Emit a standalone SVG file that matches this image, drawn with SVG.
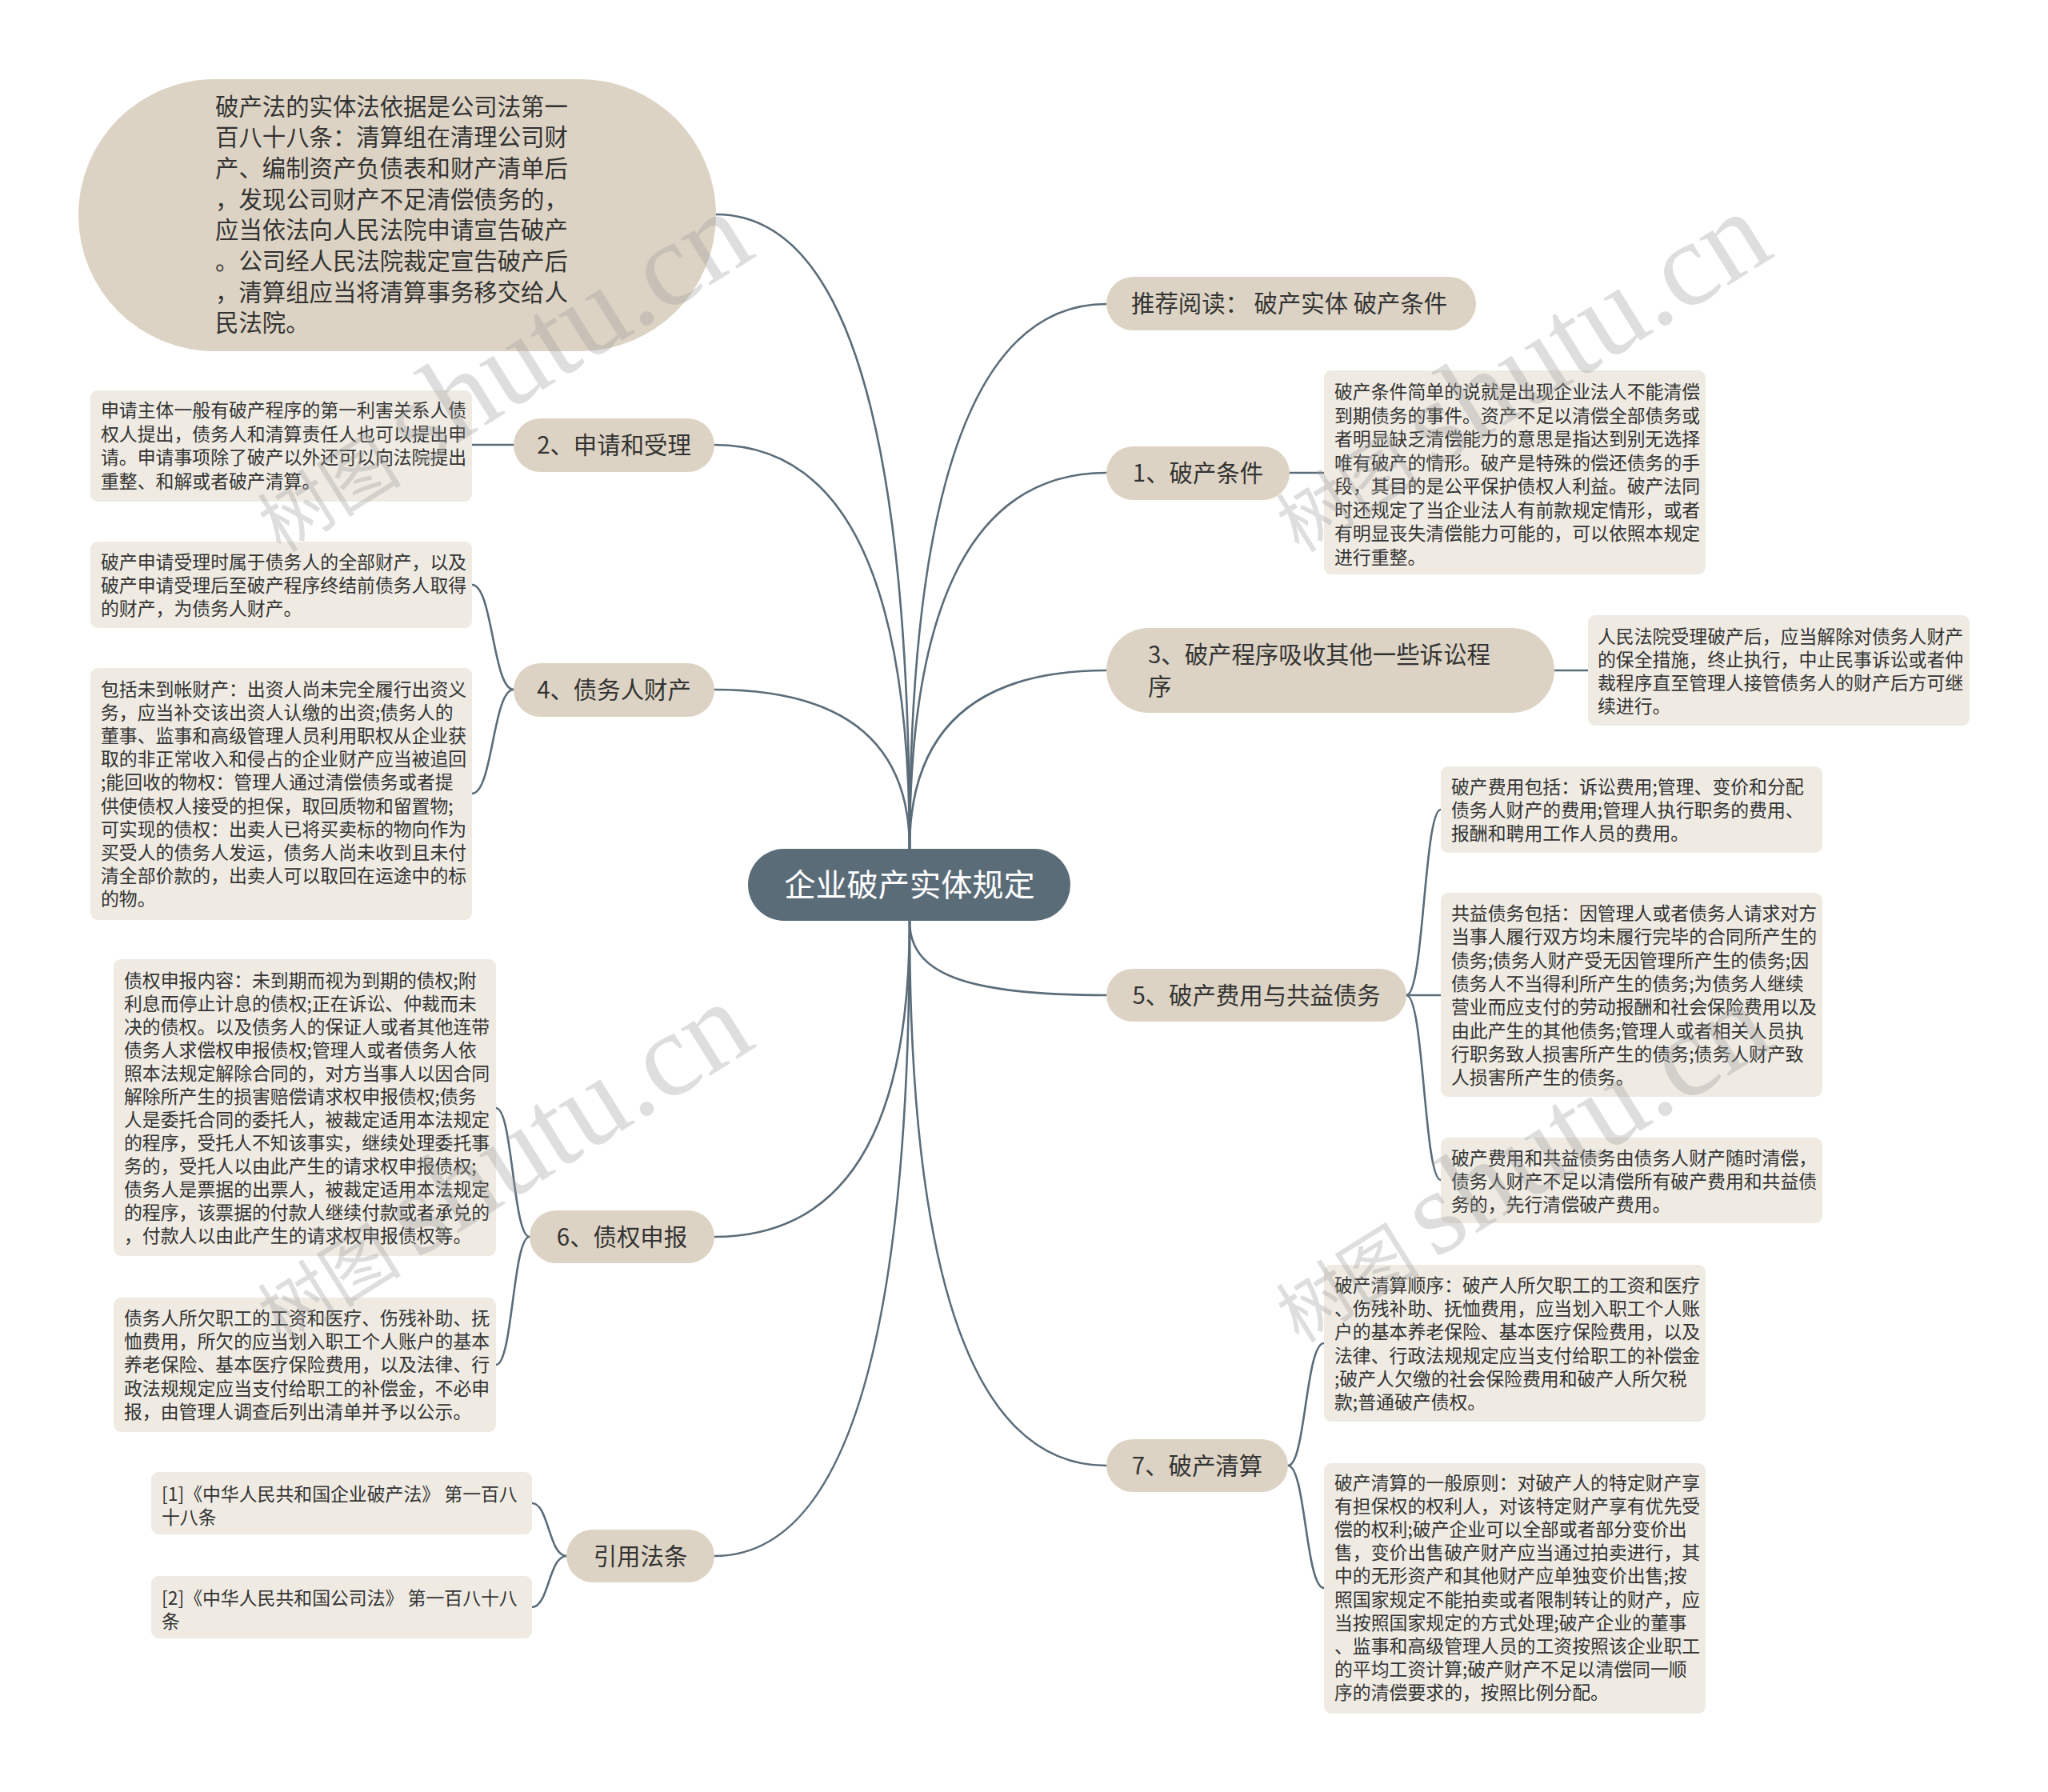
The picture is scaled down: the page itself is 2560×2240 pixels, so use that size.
<svg xmlns="http://www.w3.org/2000/svg" width="2560" height="2240" viewBox="0 0 2560 2240">
<style>
.bg{fill:#ffffff}
.ctr{fill:#5b6c79}
.pill{fill:#ddd3c4}
.box{fill:#efebe3}
.ln{fill:none;stroke:#5b6c79;stroke-width:2.6;stroke-linecap:round}
.t1{font-family:"Noto Sans CJK SC","Noto Sans",sans-serif;font-size:29.4px;fill:#333333}
.t2{font-family:"Noto Sans CJK SC","Noto Sans",sans-serif;font-size:22.86px;fill:#333333}
.tc{font-family:"Noto Sans CJK SC","Noto Sans",sans-serif;font-size:39.2px;fill:#ffffff}
.mid{text-anchor:middle}
.wm{fill:#9a9a9a;fill-opacity:0.33}
.wmc{font-family:"Noto Sans CJK SC",sans-serif;font-size:90px}
.wml{font-family:"Liberation Serif",serif;font-size:150px}
</style>
<rect class="bg" x="0" y="0" width="2560" height="2240"/>

<g id="connectors">
<path class="ln" d="M1137 1061 Q1137 268 895 268"/>
<path class="ln" d="M1137 1061 Q1137 556 893 556"/>
<path class="ln" d="M1137 1061 Q1137 862 893 862"/>
<path class="ln" d="M1137 1061 Q1137 380 1383 380"/>
<path class="ln" d="M1137 1061 Q1137 591 1383 591"/>
<path class="ln" d="M1137 1061 Q1137 838 1383 838"/>
<path class="ln" d="M1137 1151 C1137 1215 1200 1244 1383 1244"/>
<path class="ln" d="M1137 1151 Q1137 1832 1383 1832"/>
<path class="ln" d="M1137 1151 Q1137 1546 893 1546"/>
<path class="ln" d="M1137 1151 Q1137 1945 893 1945"/>
<path class="ln" d="M642 556 L590 556"/>
<path class="ln" d="M1612 591 L1655 591"/>
<path class="ln" d="M1943 838 L1985 838"/>
<path class="ln" d="M642 862 C616 862 616 731 590 731"/>
<path class="ln" d="M642 862 C616 862 616 992 590 992"/>
<path class="ln" d="M662 1546 C641 1546 641 1385 620 1385"/>
<path class="ln" d="M662 1546 C641 1546 641 1706 620 1706"/>
<path class="ln" d="M708 1945 C686 1945 686 1879 665 1879"/>
<path class="ln" d="M708 1945 C686 1945 686 2009 665 2009"/>
<path class="ln" d="M1758 1244 C1780 1244 1780 1012 1801 1012"/>
<path class="ln" d="M1758 1244 L1801 1244"/>
<path class="ln" d="M1758 1244 C1780 1244 1780 1475 1801 1475"/>
<path class="ln" d="M1610 1832 C1632 1832 1632 1679 1655 1679"/>
<path class="ln" d="M1610 1832 C1632 1832 1632 1985 1655 1985"/>
</g>

<g id="center">
<rect class="ctr" x="935" y="1061" width="403" height="90" rx="45"/>
<text class="tc mid" x="1137" y="1120">企业破产实体规定</text>
</g>

<g id="n-basis">
<rect class="pill" x="98" y="99" width="797" height="340" rx="170"/>
<text class="t1">
<tspan x="269" y="143.5">破产法的实体法依据是公司法第一</tspan>
<tspan x="269" y="182.2">百八十八条：清算组在清理公司财</tspan>
<tspan x="269" y="220.9">产、编制资产负债表和财产清单后</tspan>
<tspan x="269" y="259.6">，发现公司财产不足清偿债务的，</tspan>
<tspan x="269" y="298.3">应当依法向人民法院申请宣告破产</tspan>
<tspan x="269" y="337">。公司经人民法院裁定宣告破产后</tspan>
<tspan x="269" y="375.7">，清算组应当将清算事务移交给人</tspan>
<tspan x="269" y="414.4">民法院。</tspan>
</text>
</g>

<g id="n2">
<rect class="pill" x="642" y="523" width="251" height="67" rx="33.5"/>
<text class="t1 mid" x="767.5" y="567">2、申请和受理</text>
</g>
<g id="n2-d">
<rect class="box" x="113" y="488" width="477" height="139" rx="9"/>
<text class="t2">
<tspan x="126" y="521">申请主体一般有破产程序的第一利害关系人债</tspan>
<tspan x="126" y="550.5">权人提出，债务人和清算责任人也可以提出申</tspan>
<tspan x="126" y="580">请。申请事项除了破产以外还可以向法院提出</tspan>
<tspan x="126" y="609.5">重整、和解或者破产清算。</tspan>
</text>
</g>

<g id="n4">
<rect class="pill" x="642" y="829" width="251" height="67" rx="33.5"/>
<text class="t1 mid" x="767.5" y="873">4、债务人财产</text>
</g>
<g id="n4-a">
<rect class="box" x="113" y="677" width="477" height="108" rx="9"/>
<text class="t2">
<tspan x="126" y="711">破产申请受理时属于债务人的全部财产，以及</tspan>
<tspan x="126" y="740">破产申请受理后至破产程序终结前债务人取得</tspan>
<tspan x="126" y="769">的财产，为债务人财产。</tspan>
</text>
</g>
<g id="n4-b">
<rect class="box" x="113" y="835" width="477" height="315" rx="9"/>
<text class="t2">
<tspan x="126" y="870">包括未到帐财产：出资人尚未完全履行出资义</tspan>
<tspan x="126" y="899.1">务，应当补交该出资人认缴的出资;债务人的</tspan>
<tspan x="126" y="928.2">董事、监事和高级管理人员利用职权从企业获</tspan>
<tspan x="126" y="957.3">取的非正常收入和侵占的企业财产应当被追回</tspan>
<tspan x="126" y="986.4">;能回收的物权：管理人通过清偿债务或者提</tspan>
<tspan x="126" y="1015.5">供使债权人接受的担保，取回质物和留置物;</tspan>
<tspan x="126" y="1044.6">可实现的债权：出卖人已将买卖标的物向作为</tspan>
<tspan x="126" y="1073.7">买受人的债务人发运，债务人尚未收到且未付</tspan>
<tspan x="126" y="1102.8">清全部价款的，出卖人可以取回在运途中的标</tspan>
<tspan x="126" y="1131.9">的物。</tspan>
</text>
</g>

<g id="n6">
<rect class="pill" x="662" y="1513" width="231" height="66" rx="33"/>
<text class="t1 mid" x="777.5" y="1556.5">6、债权申报</text>
</g>
<g id="n6-a">
<rect class="box" x="142" y="1199" width="478" height="371" rx="9"/>
<text class="t2">
<tspan x="155" y="1234">债权申报内容：未到期而视为到期的债权;附</tspan>
<tspan x="155" y="1263">利息而停止计息的债权;正在诉讼、仲裁而未</tspan>
<tspan x="155" y="1292">决的债权。以及债务人的保证人或者其他连带</tspan>
<tspan x="155" y="1321">债务人求偿权申报债权;管理人或者债务人依</tspan>
<tspan x="155" y="1350">照本法规定解除合同的，对方当事人以因合同</tspan>
<tspan x="155" y="1379">解除所产生的损害赔偿请求权申报债权;债务</tspan>
<tspan x="155" y="1408">人是委托合同的委托人，被裁定适用本法规定</tspan>
<tspan x="155" y="1437">的程序，受托人不知该事实，继续处理委托事</tspan>
<tspan x="155" y="1466">务的，受托人以由此产生的请求权申报债权;</tspan>
<tspan x="155" y="1495">债务人是票据的出票人，被裁定适用本法规定</tspan>
<tspan x="155" y="1524">的程序，该票据的付款人继续付款或者承兑的</tspan>
<tspan x="155" y="1553">，付款人以由此产生的请求权申报债权等。</tspan>
</text>
</g>
<g id="n6-b">
<rect class="box" x="142" y="1622" width="478" height="168" rx="9"/>
<text class="t2">
<tspan x="155" y="1656">债务人所欠职工的工资和医疗、伤残补助、抚</tspan>
<tspan x="155" y="1685.2">恤费用，所欠的应当划入职工个人账户的基本</tspan>
<tspan x="155" y="1714.4">养老保险、基本医疗保险费用，以及法律、行</tspan>
<tspan x="155" y="1743.6">政法规规定应当支付给职工的补偿金，不必申</tspan>
<tspan x="155" y="1772.8">报，由管理人调查后列出清单并予以公示。</tspan>
</text>
</g>

<g id="n-ref">
<rect class="pill" x="708" y="1912" width="185" height="66" rx="33"/>
<text class="t1 mid" x="800.5" y="1955.5">引用法条</text>
</g>
<g id="n-ref-1">
<rect class="box" x="189" y="1840" width="476" height="78" rx="9"/>
<text class="t2">
<tspan x="202" y="1876">[1]《中华人民共和国企业破产法》 第一百八</tspan>
<tspan x="202" y="1905">十八条</tspan>
</text>
</g>
<g id="n-ref-2">
<rect class="box" x="189" y="1970" width="476" height="78" rx="9"/>
<text class="t2">
<tspan x="202" y="2006">[2]《中华人民共和国公司法》 第一百八十八</tspan>
<tspan x="202" y="2035">条</tspan>
</text>
</g>

<g id="n-rec">
<rect class="pill" x="1383" y="346" width="462" height="67" rx="33.5"/>
<text class="t1" x="1414" y="390">推荐阅读： 破产实体 破产条件</text>
</g>

<g id="n1">
<rect class="pill" x="1383" y="558" width="229" height="67" rx="33.5"/>
<text class="t1 mid" x="1497.5" y="601.5">1、破产条件</text>
</g>
<g id="n1-d">
<rect class="box" x="1655" y="463" width="477" height="255" rx="9"/>
<text class="t2">
<tspan x="1668" y="498">破产条件简单的说就是出现企业法人不能清偿</tspan>
<tspan x="1668" y="527.5">到期债务的事件。资产不足以清偿全部债务或</tspan>
<tspan x="1668" y="557">者明显缺乏清偿能力的意思是指达到别无选择</tspan>
<tspan x="1668" y="586.5">唯有破产的情形。破产是特殊的偿还债务的手</tspan>
<tspan x="1668" y="616">段，其目的是公平保护债权人利益。破产法同</tspan>
<tspan x="1668" y="645.5">时还规定了当企业法人有前款规定情形，或者</tspan>
<tspan x="1668" y="675">有明显丧失清偿能力可能的，可以依照本规定</tspan>
<tspan x="1668" y="704.5">进行重整。</tspan>
</text>
</g>

<g id="n3">
<rect class="pill" x="1383" y="785" width="560" height="106" rx="53"/>
<text class="t1">
<tspan x="1435" y="828.5">3、破产程序吸收其他一些诉讼程</tspan>
<tspan x="1435" y="868.5">序</tspan>
</text>
</g>
<g id="n3-d">
<rect class="box" x="1985" y="769" width="477" height="138" rx="9"/>
<text class="t2">
<tspan x="1997" y="804">人民法院受理破产后，应当解除对债务人财产</tspan>
<tspan x="1997" y="833">的保全措施，终止执行，中止民事诉讼或者仲</tspan>
<tspan x="1997" y="862">裁程序直至管理人接管债务人的财产后方可继</tspan>
<tspan x="1997" y="891">续进行。</tspan>
</text>
</g>

<g id="n5">
<rect class="pill" x="1383" y="1211" width="375" height="66" rx="33"/>
<text class="t1 mid" x="1570.5" y="1254.5">5、破产费用与共益债务</text>
</g>
<g id="n5-a">
<rect class="box" x="1801" y="958" width="477" height="108" rx="9"/>
<text class="t2">
<tspan x="1814" y="992">破产费用包括：诉讼费用;管理、变价和分配</tspan>
<tspan x="1814" y="1021">债务人财产的费用;管理人执行职务的费用、</tspan>
<tspan x="1814" y="1050">报酬和聘用工作人员的费用。</tspan>
</text>
</g>
<g id="n5-b">
<rect class="box" x="1801" y="1116" width="477" height="255" rx="9"/>
<text class="t2">
<tspan x="1814" y="1150">共益债务包括：因管理人或者债务人请求对方</tspan>
<tspan x="1814" y="1179.3">当事人履行双方均未履行完毕的合同所产生的</tspan>
<tspan x="1814" y="1208.6">债务;债务人财产受无因管理所产生的债务;因</tspan>
<tspan x="1814" y="1237.9">债务人不当得利所产生的债务;为债务人继续</tspan>
<tspan x="1814" y="1267.2">营业而应支付的劳动报酬和社会保险费用以及</tspan>
<tspan x="1814" y="1296.5">由此产生的其他债务;管理人或者相关人员执</tspan>
<tspan x="1814" y="1325.8">行职务致人损害所产生的债务;债务人财产致</tspan>
<tspan x="1814" y="1355.1">人损害所产生的债务。</tspan>
</text>
</g>
<g id="n5-c">
<rect class="box" x="1801" y="1422" width="477" height="107" rx="9"/>
<text class="t2">
<tspan x="1814" y="1456">破产费用和共益债务由债务人财产随时清偿，</tspan>
<tspan x="1814" y="1485">债务人财产不足以清偿所有破产费用和共益债</tspan>
<tspan x="1814" y="1514">务的，先行清偿破产费用。</tspan>
</text>
</g>

<g id="n7">
<rect class="pill" x="1383" y="1799" width="227" height="66" rx="33"/>
<text class="t1 mid" x="1496.5" y="1842.5">7、破产清算</text>
</g>
<g id="n7-a">
<rect class="box" x="1655" y="1581" width="477" height="196" rx="9"/>
<text class="t2">
<tspan x="1668" y="1615">破产清算顺序：破产人所欠职工的工资和医疗</tspan>
<tspan x="1668" y="1644.2">、伤残补助、抚恤费用，应当划入职工个人账</tspan>
<tspan x="1668" y="1673.4">户的基本养老保险、基本医疗保险费用，以及</tspan>
<tspan x="1668" y="1702.6">法律、行政法规规定应当支付给职工的补偿金</tspan>
<tspan x="1668" y="1731.8">;破产人欠缴的社会保险费用和破产人所欠税</tspan>
<tspan x="1668" y="1761">款;普通破产债权。</tspan>
</text>
</g>
<g id="n7-b">
<rect class="box" x="1655" y="1829" width="477" height="313" rx="9"/>
<text class="t2">
<tspan x="1668" y="1862">破产清算的一般原则：对破产人的特定财产享</tspan>
<tspan x="1668" y="1891.1">有担保权的权利人，对该特定财产享有优先受</tspan>
<tspan x="1668" y="1920.2">偿的权利;破产企业可以全部或者部分变价出</tspan>
<tspan x="1668" y="1949.3">售，变价出售破产财产应当通过拍卖进行，其</tspan>
<tspan x="1668" y="1978.4">中的无形资产和其他财产应单独变价出售;按</tspan>
<tspan x="1668" y="2007.5">照国家规定不能拍卖或者限制转让的财产，应</tspan>
<tspan x="1668" y="2036.6">当按照国家规定的方式处理;破产企业的董事</tspan>
<tspan x="1668" y="2065.7">、监事和高级管理人员的工资按照该企业职工</tspan>
<tspan x="1668" y="2094.8">的平均工资计算;破产财产不足以清偿同一顺</tspan>
<tspan x="1668" y="2123.9">序的清偿要求的，按照比例分配。</tspan>
</text>
</g>

<g id="watermarks" class="wm">
<text transform="translate(351 692) rotate(-32)"><tspan class="wmc">树图</tspan><tspan class="wml" dx="20">shutu.cn</tspan></text>
<text transform="translate(1624 692) rotate(-32)"><tspan class="wmc">树图</tspan><tspan class="wml" dx="20">shutu.cn</tspan></text>
<text transform="translate(351 1680) rotate(-32)"><tspan class="wmc">树图</tspan><tspan class="wml" dx="20">shutu.cn</tspan></text>
<text transform="translate(1624 1680) rotate(-32)"><tspan class="wmc">树图</tspan><tspan class="wml" dx="20">shutu.cn</tspan></text>
</g>
</svg>
